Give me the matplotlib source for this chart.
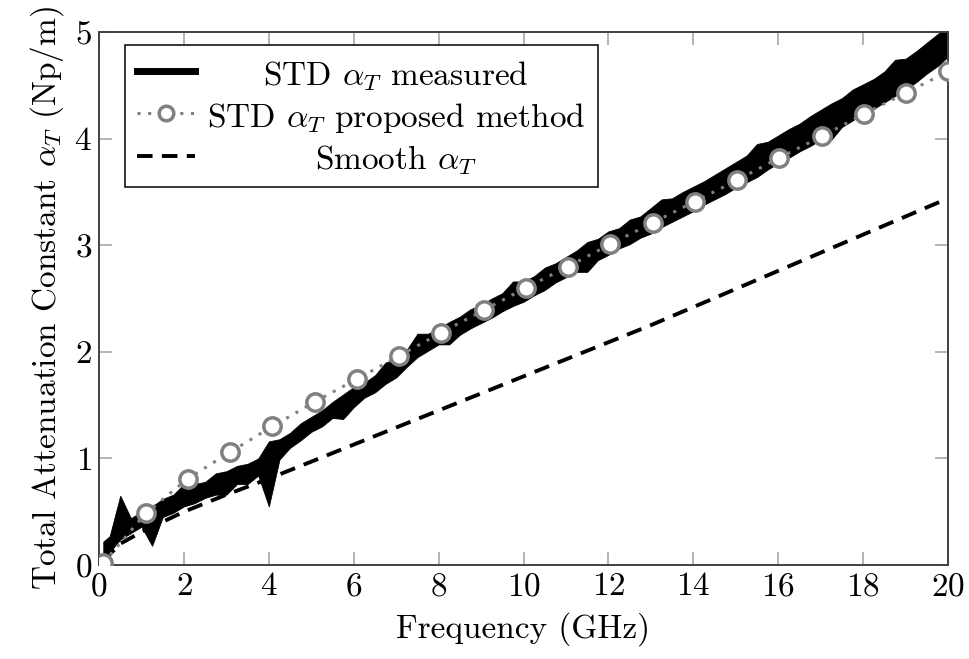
import numpy as np
import matplotlib
matplotlib.use('Agg')
import matplotlib.pyplot as plt
from matplotlib.lines import Line2D

plt.rcParams['font.family'] = 'serif'
plt.rcParams['font.serif'] = ['cmr10']
plt.rcParams['mathtext.fontset'] = 'cm'
plt.rcParams['axes.formatter.use_mathtext'] = True

# ---------- data ----------
# measured alpha_T: noisy trace, kept as its lower / upper envelope
meas_freq = [0.1] + [0.25 * k for k in range(1, 81)]
meas_upper = [0.22, 0.27, 0.65, 0.44, 0.50, 0.55, 0.62, 0.66, 0.76, 0.76,
              0.78, 0.86, 0.88, 0.93, 0.95, 1.00, 1.16, 1.18, 1.24, 1.33,
              1.39, 1.45, 1.53, 1.60, 1.67, 1.71, 1.78, 1.90, 1.93, 2.02,
              2.17, 2.17, 2.22, 2.28, 2.33, 2.40, 2.44, 2.50, 2.55, 2.66,
              2.66, 2.71, 2.79, 2.83, 2.89, 2.95, 3.03, 3.06, 3.13, 3.16,
              3.24, 3.27, 3.35, 3.43, 3.44, 3.50, 3.55, 3.60, 3.66, 3.72,
              3.78, 3.84, 3.95, 3.97, 4.03, 4.09, 4.14, 4.21, 4.27, 4.33,
              4.38, 4.46, 4.51, 4.56, 4.63, 4.74, 4.75, 4.82, 4.90, 4.98,
              5.05]
meas_lower = [0.00, 0.12, 0.24, 0.30, 0.36, 0.18, 0.45, 0.49, 0.55, 0.58,
              0.63, 0.66, 0.66, 0.76, 0.76, 0.84, 0.55, 0.99, 1.10, 1.17,
              1.25, 1.30, 1.38, 1.37, 1.48, 1.57, 1.62, 1.70, 1.76, 1.86,
              1.95, 2.01, 2.07, 2.07, 2.16, 2.22, 2.27, 2.32, 2.38, 2.43,
              2.47, 2.53, 2.58, 2.65, 2.70, 2.75, 2.75, 2.86, 2.91, 2.97,
              3.01, 3.07, 3.11, 3.17, 3.22, 3.27, 3.32, 3.38, 3.43, 3.48,
              3.54, 3.59, 3.64, 3.71, 3.77, 3.82, 3.88, 3.93, 3.99, 3.99,
              4.11, 4.17, 4.24, 4.28, 4.34, 4.40, 4.46, 4.53, 4.61, 4.68,
              4.77]

# proposed method (marked samples)
prop_freq = [0.1, 1.1, 2.09, 3.09, 4.08, 5.08, 6.07, 7.06, 8.06, 9.06, 10.05,
             11.05, 12.04, 13.04, 14.03, 15.03, 16.02, 17.02, 18.01, 19.01, 20.0]
prop_alpha = [0.02, 0.485, 0.81, 1.06, 1.30, 1.53, 1.745, 1.96, 2.18, 2.39, 2.60,
              2.80, 3.01, 3.21, 3.41, 3.61, 3.82, 4.02, 4.23, 4.43, 4.63]

# smooth alpha_T
smooth_freq = [0.1, 0.5, 1, 2, 3, 4, 5, 6, 7, 8, 9, 10, 11, 12, 13, 14, 15,
               16, 17, 18, 19, 20]
smooth_alpha = [0.04, 0.20, 0.31, 0.50, 0.66, 0.81, 0.97, 1.13, 1.29, 1.45,
                1.61, 1.77, 1.93, 2.09, 2.25, 2.42, 2.59, 2.76, 2.93, 3.10,
                3.27, 3.44]

labels = [r'STD $\alpha_T$ measured', r'STD $\alpha_T$ proposed method',
          r'Smooth $\alpha_T$']
x_ticks = list(range(0, 21, 2))
y_ticks = [0, 1, 2, 3, 4, 5]

# ---------- plot ----------
fig = plt.figure(figsize=(9.7, 6.59), dpi=100)
ax = fig.add_axes([0.1021, 0.1426, 0.8753, 0.8088])

ax.fill_between(meas_freq, meas_lower, meas_upper, color='black', lw=0.6, zorder=2)
ln_prop, = ax.plot(prop_freq, prop_alpha, color='#808080', lw=2.2, dashes=(1, 2.5),
                   marker='o', ms=12.5, mew=2.5, mfc='white', mec='#808080', zorder=3)
ln_smooth, = ax.plot(smooth_freq, smooth_alpha, color='black', lw=2.8,
                     dashes=(4.0, 2.4), zorder=2.5)

ax.set_xlim(0, 20)
ax.set_ylim(0, 5)
ax.set_xticks(x_ticks)
ax.set_yticks(y_ticks)
ax.tick_params(direction='in', length=9.5, width=1.1, color='#a0a0a0',
               labelsize=24, pad=5, top=True, right=True)
for sp in ax.spines.values():
    sp.set_color('#404040')
    sp.set_linewidth(1.4)

ax.set_xlabel('Frequency (GHz)', fontsize=24, labelpad=8)
ax.set_ylabel(r'Total Attenuation Constant $\alpha_T$ (Np/m)', fontsize=24, labelpad=6)

meas_proxy = Line2D([], [], color='black', lw=5)
leg = ax.legend([meas_proxy, ln_prop, ln_smooth], labels, loc='upper left',
                bbox_to_anchor=(0.0306, 0.9756), borderaxespad=0, fontsize=24,
                frameon=True, fancybox=False, framealpha=1, edgecolor='black',
                handlelength=1.75, handletextpad=0.35, borderpad=0.36,
                labelspacing=0.25, numpoints=1)
leg.get_frame().set_linewidth(1.1)
leg.legend_handles[1].set_markersize(10.5)

# centre the legend texts like pgfplots does
fig.canvas.draw()
rend = fig.canvas.get_renderer()
texts = leg.get_texts()
widths = [t.get_window_extent(rend).width for t in texts]
wmax = max(widths)
for t, w in zip(texts, widths):
    t.set_position(((wmax - w) / 2, -2))

fig.savefig('out.png', dpi=100)
